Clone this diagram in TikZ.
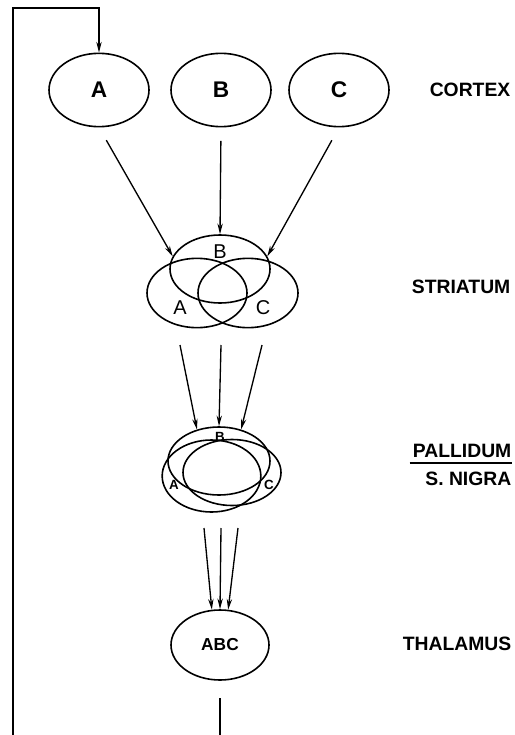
\documentclass[tikz,border=0pt]{standalone}
\usepackage{fontspec}
\setmainfont{Liberation Sans}
\usetikzlibrary{shapes.geometric, arrows.meta}

\begin{document}
\begin{tikzpicture}[->,>={Stealth[length=8pt,width=4pt]},x=0.75pt,y=-0.75pt,line width=1pt]
        \tikzstyle{area}=[draw, ellipse, inner sep=0pt, line width=1.2pt]
        \tikzstyle{cortex}=[area, minimum width=75pt, minimum height=55pt, font=\fontsize{17}{17}\selectfont\bfseries]
        \tikzstyle{level}=[anchor=east, inner sep=0pt, font=\fontsize{14.5}{16}\selectfont\bfseries]
        \tikzstyle{letter}=[inner sep=0pt, font=\fontsize{15}{15}\selectfont]
        \tikzstyle{small}=[inner sep=0pt, font=\fontsize{10}{10}\selectfont\bfseries]

        \useasboundingbox (0,0) rectangle (514,735);

        % cortex
        \node[cortex] (A) at (99,90)  {A};
        \node[cortex] (B) at (221,90) {B};
        \node[cortex] (C) at (339,90) {C};
        \node[level]  (cx) at (511,90) {CORTEX};

        % striatum
        \node[area, minimum width=75pt, minimum height=51pt] (stB) at (220,269) {};
        \node[area, minimum width=75pt, minimum height=52pt] (stA) at (197,293) {};
        \node[area, minimum width=75pt, minimum height=52pt] (stC) at (248,293) {};
        \node[letter] (lstB) at (220,252) {B};
        \node[letter] (lstA) at (180,308) {A};
        \node[letter] (lstC) at (263,308) {C};
        \node[level]  (st) at (511,287) {STRIATUM};

        % pallidum / s. nigra
        \node[area, minimum width=76.5pt, minimum height=51pt] (pB) at (219,461) {};
        \node[area, minimum width=74pt, minimum height=54pt] (pA) at (211.5,476) {};
        \node[area, minimum width=73.5pt, minimum height=49.5pt] (pC) at (232,472.5) {};
        \node[small] (lpB) at (220,437) {B};
        \node[small] (lpA) at (174,485) {A};
        \node[small] (lpC) at (269,485) {C};
        \node[level] (pal) at (512,451) {PALLIDUM};
        \node[level] (sn)  at (512,479) {S. NIGRA};
        \draw[-, line width=1.4pt] ([xshift=-2pt,yshift=-3.75pt]pal.south west) -- ([yshift=-3.75pt]pal.south east);

        % thalamus
        \node[area, minimum width=73.5pt, minimum height=52.5pt, font=\fontsize{13}{13}\selectfont\bfseries] (th) at (220,645) {ABC};
        \node[level] (thl) at (512,644) {THALAMUS};

        \coordinate (s1) at (180,345);
        \coordinate (s2) at (221,345);
        \coordinate (s3) at (262,345);
        \coordinate (p1) at (204,528);
        \coordinate (p2) at (221,528);
        \coordinate (p3) at (238,528);
        \coordinate (out) at (220,735);
        \coordinate (fb) at (13,735);
        \coordinate (corner) at (13,8);

        \draw[shorten <=11pt] (A.south) -- (stB.165);
        \draw[shorten <=10pt] (B.south) -- (stB.north);
        \draw[shorten <=11pt] (C.south) -- (stB.15);

        \draw (s1) -- (pB.125);
        \draw (s2) -- (pB.north);
        \draw (s3) -- (pB.55);

        \draw (p1) -- (th.103);
        \draw (p2) -- (th.north);
        \draw (p3) -- (th.77);

        \draw[-, shorten <=13pt] (th.south) -- (out);
        \draw (fb) -- (corner) -| (A.north);
\end{tikzpicture}
\end{document}
